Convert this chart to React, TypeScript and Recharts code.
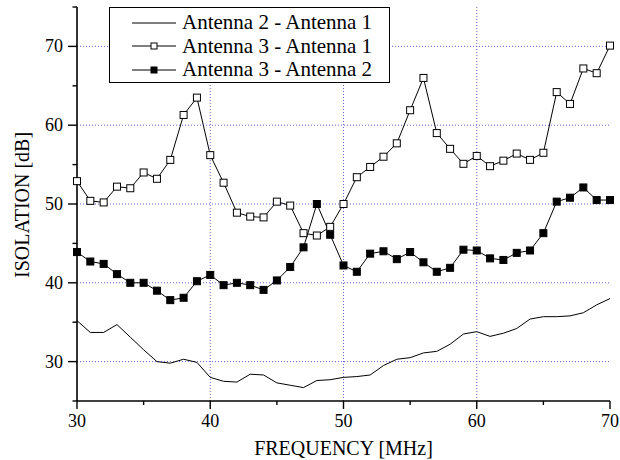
import React from "react";
import { LineChart, Line, XAxis, YAxis, ReferenceLine, Legend } from "recharts";

const frequency = [
  30, 31, 32, 33, 34, 35, 36, 37, 38, 39, 40, 41, 42, 43, 44, 45, 46, 47, 48, 49, 50,
  51, 52, 53, 54, 55, 56, 57, 58, 59, 60, 61, 62, 63, 64, 65, 66, 67, 68, 69, 70,
];

// Antenna 2 - Antenna 1 (plain line)
const ant21 = [
  35.2, 33.7, 33.7, 34.7, 33.1, 31.5, 30.0, 29.8, 30.3, 29.9, 28.0, 27.5, 27.4, 28.4, 28.3, 27.3, 27.0, 26.7, 27.6, 27.7, 28.0,
  28.1, 28.3, 29.5, 30.3, 30.5, 31.1, 31.3, 32.2, 33.5, 33.8, 33.2, 33.6, 34.2, 35.4, 35.7, 35.7, 35.8, 36.2, 37.2, 38.0,
];

// Antenna 3 - Antenna 1 (open squares)
const ant31 = [
  52.9, 50.4, 50.2, 52.2, 52.0, 54.0, 53.2, 55.6, 61.3, 63.5, 56.2, 52.7, 48.9, 48.4, 48.3, 50.3, 49.8, 46.3, 46.0, 47.1, 50.0,
  53.4, 54.7, 56.0, 57.7, 61.9, 66.0, 59.0, 57.0, 55.1, 56.1, 54.8, 55.5, 56.4, 55.6, 56.5, 64.2, 62.7, 67.2, 66.6, 70.1,
];

// Antenna 3 - Antenna 2 (filled squares)
const ant32 = [
  43.9, 42.7, 42.4, 41.1, 40.0, 40.0, 39.0, 37.8, 38.1, 40.2, 41.0, 39.7, 40.0, 39.7, 39.1, 40.3, 42.0, 44.5, 50.0, 46.1, 42.2,
  41.4, 43.7, 44.0, 43.0, 43.9, 42.6, 41.4, 41.9, 44.2, 44.1, 43.1, 42.9, 43.8, 44.1, 46.3, 50.3, 50.8, 52.1, 50.5, 50.5,
];

const seriesNames = ["Antenna 2 - Antenna 1", "Antenna 3 - Antenna 1", "Antenna 3 - Antenna 2"];
const xTicks = [30, 35, 40, 45, 50, 55, 60, 65, 70];
const yTicks = [25, 30, 35, 40, 45, 50, 55, 60, 65, 70, 75];
const xGrid = [40, 50, 60];
const yGrid = [30, 40, 50, 60, 70];

const data = frequency.map((f, i) => ({ f, a21: ant21[i], a31: ant31[i], a32: ant32[i] }));

const serif = "Liberation Serif, Times New Roman, serif";
const gridColor = "#6464d8";

const markerFill: Record<string, string | null> = { a21: null, a31: "#fff", a32: "#000" };

const squareDot = (fill: string) => (props: any) => {
  const { cx, cy, index } = props;
  if (cx == null || cy == null) return <g key={`d-${index}`} />;
  return (
    <rect
      key={`d-${fill}-${index}`}
      x={cx - 3.5}
      y={cy - 3.5}
      width={7}
      height={7}
      fill={fill}
      stroke="#000"
      strokeWidth={1}
    />
  );
};

const yTick = (props: any) => {
  const { x, y, payload } = props;
  const v = payload.value;
  const major = v % 10 === 0;
  return (
    <g>
      <line x1={x - (major ? 9 : 4.5)} x2={x} y1={y} y2={y} stroke="#000" strokeWidth={1.4} />
      {major && (
        <text x={x - 14} y={y} dy={6} textAnchor="end" style={{ fontFamily: serif }} fontSize={18} fill="#000">
          {v}
        </text>
      )}
    </g>
  );
};

const xTick = (props: any) => {
  const { x, y, payload } = props;
  const v = payload.value;
  const major = v % 10 === 0;
  return (
    <g>
      <line x1={x} x2={x} y1={y} y2={y + (major ? 8 : 4)} stroke="#000" strokeWidth={1.4} />
      {major && (
        <text x={x} y={y + 26} textAnchor="middle" style={{ fontFamily: serif }} fontSize={18} fill="#000">
          {v}
        </text>
      )}
    </g>
  );
};

const topTick = (props: any) => {
  const { x, y } = props;
  return <line x1={x} x2={x} y1={y} y2={y - 2} stroke="#000" strokeWidth={1} />;
};

const rightTick = (props: any) => {
  const { x, y } = props;
  return <line x1={x} x2={x + 2} y1={y} y2={y} stroke="#000" strokeWidth={1} />;
};

const renderLegend = (props: any) => {
  const { payload = [] } = props;
  return (
    <div
      style={{
        width: 281,
        height: 76,
        boxSizing: "border-box",
        border: "1.3px solid #000",
        background: "#fff",
        fontFamily: serif,
        fontSize: 21,
        paddingTop: 3,
      }}
    >
      {payload.map((entry: any) => {
        const fill = markerFill[entry.dataKey as string];
        return (
          <div key={entry.dataKey} style={{ height: 23.5, display: "flex", alignItems: "center" }}>
            <svg width={44} height={12} style={{ marginLeft: 22 }}>
              <line x1={0} x2={44} y1={6} y2={6} stroke="#000" strokeWidth={1} />
              {fill && <rect x={19} y={3} width={6} height={6} fill={fill} stroke="#000" strokeWidth={1} />}
            </svg>
            <span style={{ marginLeft: 6, lineHeight: "23.5px", color: "#000" }}>{entry.value}</span>
          </div>
        );
      })}
    </div>
  );
};

export default function App() {
  return (
    <div style={{ position: "absolute", left: 0, top: 0, width: 620, height: 460, background: "#fff", fontFamily: serif }}>
      <LineChart width={620} height={460} data={data} margin={{ top: 7, right: 10, bottom: 0, left: 0 }}>
        <XAxis
          dataKey="f"
          type="number"
          domain={[30, 70]}
          ticks={xTicks}
          interval={0}
          height={59}
          tickSize={0}
          tickMargin={0}
          tickLine={false}
          tick={xTick}
          axisLine={{ stroke: "#000", strokeWidth: 1.6 }}
          label={{
            value: "FREQUENCY [MHz]",
            position: "insideBottom",
            offset: 5,
            style: { fontFamily: serif },
            fontSize: 20,
            fill: "#000",
          }}
        />
        <XAxis
          xAxisId="top"
          orientation="top"
          dataKey="f"
          type="number"
          domain={[30, 70]}
          ticks={xTicks}
          interval={0}
          height={0}
          tickSize={0}
          tickMargin={0}
          tickLine={false}
          tick={topTick}
          axisLine={{ stroke: "#000", strokeWidth: 1.6 }}
        />
        <YAxis
          type="number"
          domain={[25, 75]}
          ticks={yTicks}
          interval={0}
          width={77}
          tickSize={0}
          tickMargin={0}
          tickLine={false}
          tick={yTick}
          axisLine={{ stroke: "#000", strokeWidth: 1.6 }}
          label={{
            value: "ISOLATION [dB]",
            angle: -90,
            position: "insideLeft",
            offset: 22,
            style: { fontFamily: serif },
            fontSize: 20,
            fill: "#000",
            dy: 74,
          }}
        />
        <YAxis
          yAxisId="right"
          orientation="right"
          type="number"
          domain={[25, 75]}
          ticks={yTicks}
          interval={0}
          width={0}
          tickSize={0}
          tickMargin={0}
          tickLine={false}
          tick={rightTick}
          axisLine={{ stroke: "#000", strokeWidth: 1.6 }}
        />
        {xGrid.map((v) => (
          <ReferenceLine key={`gx-${v}`} x={v} stroke={gridColor} strokeDasharray="1 2" strokeWidth={1} />
        ))}
        {yGrid.map((v) => (
          <ReferenceLine key={`gy-${v}`} y={v} stroke={gridColor} strokeDasharray="1 2" strokeWidth={1} />
        ))}
        <Legend
          layout="vertical"
          align="center"
          verticalAlign="middle"
          content={renderLegend}
          wrapperStyle={{ position: "absolute", left: 109, top: 7, width: 281, height: 76 }}
        />
        <Line
          dataKey="a21"
          name={seriesNames[0]}
          stroke="#000"
          strokeWidth={1}
          dot={false}
          isAnimationActive={false}
        />
        <Line
          dataKey="a31"
          name={seriesNames[1]}
          stroke="#000"
          strokeWidth={1}
          dot={squareDot("#fff")}
          isAnimationActive={false}
        />
        <Line
          dataKey="a32"
          name={seriesNames[2]}
          stroke="#000"
          strokeWidth={1}
          dot={squareDot("#000")}
          isAnimationActive={false}
        />
      </LineChart>
    </div>
  );
}
